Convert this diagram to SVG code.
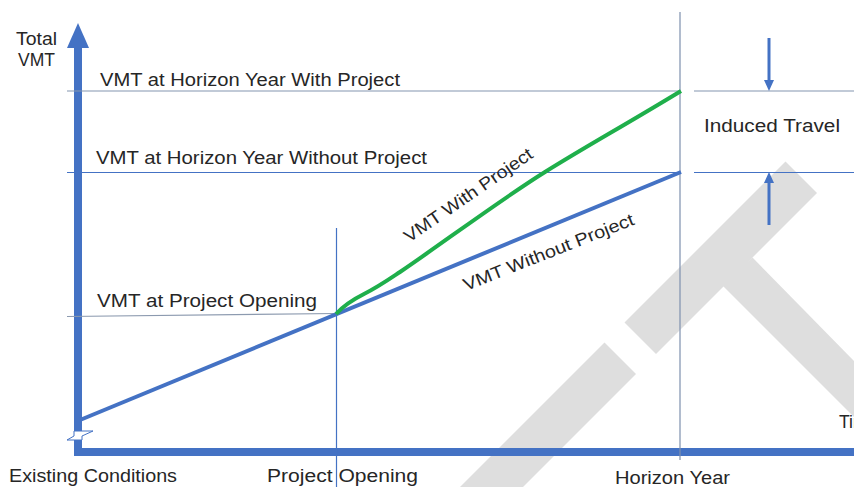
<svg xmlns="http://www.w3.org/2000/svg" width="854" height="487" viewBox="0 0 854 487">
<style>
.wm{fill:#dedede}
.t{font-family:"Liberation Sans",Arial,sans-serif;font-size:17.5px;fill:#262626}
.thin{stroke-width:1.2;fill:none}
.blue{stroke:#4472C4}
.slate{stroke:#8496B0}
.axis{stroke:#4472C4;stroke-width:8;fill:none}
</style>
<rect width="854" height="487" fill="#ffffff"/>
<g id="watermark">
<polygon class="wm" points="604.5,342.5 636,374 523,487 460,487"/>
<polygon class="wm" points="624.5,322.5 656,354 817,193 785.5,161.5"/>
<polygon class="wm" points="721,284 752.5,257.5 1000,510 960,523"/>
</g>
<g id="axes">
<line class="axis" x1="78" y1="45" x2="78" y2="456"/>
<line class="axis" x1="74" y1="452" x2="860" y2="452"/>
<polygon points="78,23 67,48 89,48" fill="#4472C4"/>
<polygon points="74,431 93,431 82,436 82,440 67,440 74,436" fill="#ffffff" stroke="#4472C4" stroke-width="1"/>
</g>
<g id="connectors">
<line class="thin slate" x1="67" y1="91" x2="680" y2="91"/>
<line class="thin slate" x1="694" y1="91" x2="854" y2="91"/>
<line class="thin blue" x1="67" y1="172.5" x2="680" y2="172.5"/>
<line class="thin blue" x1="694" y1="172.5" x2="854" y2="172.5"/>
<line class="thin" stroke="#8C9AAF" x1="67" y1="316.5" x2="337" y2="313.5"/>
<line class="thin blue" x1="336.5" y1="228" x2="336.5" y2="487"/>
<line class="thin" stroke="#7D8FAD" stroke-width="1.5" x1="680" y1="12" x2="680" y2="460"/>
<line stroke="#4472C4" stroke-width="4" x1="80" y1="420" x2="681" y2="172"/>
<path d="M336,314 Q346,303 364,294 C378,287 388,280 400,272 C440,245 500,200 545,172 S620,128 681,91" fill="none" stroke="#1FAF4B" stroke-width="4"/>
<line stroke="#4472C4" stroke-width="3" x1="769" y1="38" x2="769" y2="82"/>
<polygon points="769,91 764,80 774,80" fill="#4472C4"/>
<line stroke="#4472C4" stroke-width="3" x1="769" y1="225" x2="769" y2="181"/>
<polygon points="769,172 764,183 774,183" fill="#4472C4"/>
</g>
<g id="labels">
<text class="t" x="16" y="45" textLength="41" lengthAdjust="spacingAndGlyphs">Total</text>
<text class="t" x="18" y="66" textLength="37" lengthAdjust="spacingAndGlyphs">VMT</text>
<text class="t" x="100" y="86" textLength="300" lengthAdjust="spacingAndGlyphs">VMT at Horizon Year With Project</text>
<text class="t" x="96" y="164" textLength="331" lengthAdjust="spacingAndGlyphs">VMT at Horizon Year Without Project</text>
<text class="t" x="97" y="307" textLength="220" lengthAdjust="spacingAndGlyphs">VMT at Project Opening</text>
<text class="t" x="704" y="132" textLength="136" lengthAdjust="spacingAndGlyphs">Induced Travel</text>
<text class="t" x="0" y="0" textLength="152" lengthAdjust="spacingAndGlyphs" transform="translate(409,243) rotate(-34.5)">VMT With Project</text>
<text class="t" x="0" y="0" textLength="182" lengthAdjust="spacingAndGlyphs" transform="translate(466,291) rotate(-21.5)">VMT Without Project</text>
<text class="t" x="9" y="482" textLength="168" lengthAdjust="spacingAndGlyphs">Existing Conditions</text>
<text class="t" x="267" y="482" textLength="151" lengthAdjust="spacingAndGlyphs">Project Opening</text>
<text class="t" x="615" y="484" textLength="115" lengthAdjust="spacingAndGlyphs">Horizon Year</text>
<text class="t" x="839" y="428">Time</text>
</g>
</svg>
